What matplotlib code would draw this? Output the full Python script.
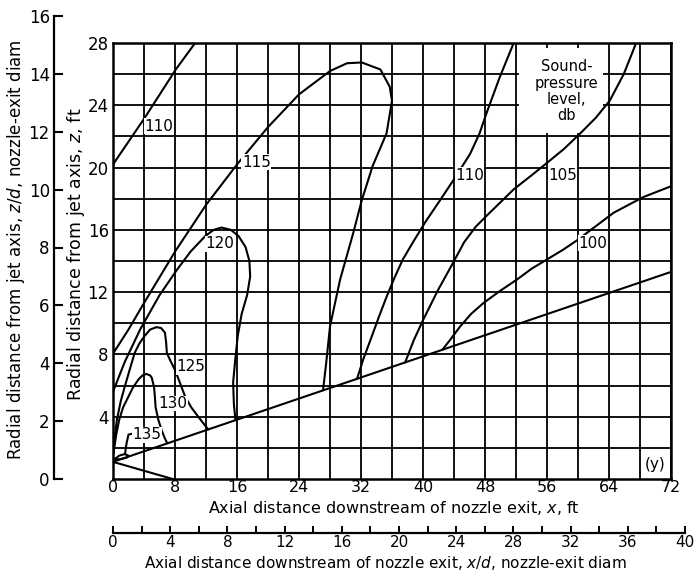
import matplotlib
matplotlib.use("Agg")
import matplotlib.pyplot as plt
import numpy as np
from matplotlib.patches import Rectangle

plt.rcParams["font.family"] = ["DejaVu Sans"]
plt.rcParams["mathtext.fontset"] = "dejavusans"

# ---- jet geometry (ft) ----
jet_edge_x = [0.0, 42.5, 72.0]
jet_edge_z = [1.1, 8.3, 13.3]
core_x = [0.0, 7.7]
core_z = [1.1, 0.0]

# ---- sound-pressure-level contours, x (ft) vs z (ft) ----
db110_outer_x = [0.0, 4.1, 8.1, 10.6]
db110_outer_z = [20.2, 23.2, 26.3, 28.0]

db115_x = [0.0, 2.0, 4.0, 8.0, 12.0, 16.0, 20.0, 24.0, 28.0, 30.2, 32.1, 34.5,
           35.7, 36.0, 35.3, 33.5, 32.1, 31.0, 29.3, 28.0, 27.5, 27.1]
db115_z = [8.05, 9.6, 11.3, 14.6, 17.6, 20.2, 22.6, 24.7, 26.2, 26.7, 26.75, 26.3,
           25.2, 24.3, 22.2, 20.1, 17.9, 15.8, 12.8, 9.8, 7.4, 5.7]

db120_x = [0.0, 1.5, 3.5, 6.0, 8.2, 10.0, 11.9, 13.0, 14.0, 15.2, 16.2, 17.1,
           17.6, 17.7, 17.3, 16.6, 16.1, 15.8, 15.5, 15.6, 15.8]
db120_z = [5.6, 7.5, 9.6, 11.8, 13.4, 14.6, 15.6, 16.0, 16.15, 16.0, 15.6, 14.9,
           14.0, 13.0, 11.8, 10.6, 9.2, 7.8, 6.2, 4.8, 3.78]

db125_x = [0.0, 0.5, 1.0, 1.5, 2.2, 2.8, 3.4, 4.1, 4.8, 5.6, 6.2, 6.7, 6.85,
           6.95, 7.4, 8.0, 8.7, 9.3, 10.1, 11.0, 11.7, 12.3]
db125_z = [1.8, 3.8, 5.0, 5.9, 7.1, 8.1, 8.7, 9.2, 9.6, 9.75, 9.7, 9.4, 8.8,
           8.1, 7.6, 7.0, 6.1, 5.3, 4.6, 4.0, 3.55, 3.18]

db130_x = [0.05, 0.4, 0.8, 1.3, 2.0, 2.6, 3.3, 3.8, 4.3, 4.8, 5.0, 5.3, 5.4,
           5.5, 5.85, 6.3, 6.7, 7.0]
db130_z = [1.6, 2.8, 3.8, 4.6, 5.3, 5.9, 6.4, 6.65, 6.75, 6.65, 6.5, 5.9, 5.3,
           4.6, 3.8, 3.1, 2.6, 2.3]

db135_x = [0.3, 0.8, 1.5, 2.0, 1.8, 1.2, 0.6, 0.3]
db135_z = [1.3, 1.5, 1.6, 1.5, 1.38, 1.3, 1.25, 1.3]
db135_leader_x = [2.65, 2.0, 1.75, 1.55]
db135_leader_z = [2.93, 2.85, 2.3, 1.6]

db110_inner_x = [31.5, 32.3, 33.2, 34.3, 35.3, 36.3, 37.4, 38.7, 40.3, 42.2,
                 44.2, 46.1, 47.3, 48.2, 49.9, 51.7]
db110_inner_z = [6.45, 7.7, 8.9, 10.4, 11.7, 12.9, 14.1, 15.2, 16.5, 17.9,
                 19.4, 20.9, 22.2, 23.5, 25.8, 28.0]

db105_x = [37.7, 38.8, 40.0, 41.9, 43.9, 45.3, 46.8, 48.2, 51.7, 54.0, 56.0,
           58.2, 60.3, 62.3, 64.1, 65.9, 67.5]
db105_z = [7.49, 8.9, 10.2, 12.1, 13.9, 15.2, 16.2, 16.9, 18.6, 19.5, 20.3,
           21.2, 22.2, 23.2, 24.3, 26.0, 28.0]

db100_x = [42.5, 43.6, 44.8, 46.2, 47.8, 50.0, 52.1, 54.0, 56.0, 58.0, 59.8,
           62.2, 64.6, 66.5, 68.4, 72.0]
db100_z = [8.3, 9.0, 9.8, 10.6, 11.3, 12.1, 12.8, 13.5, 14.1, 14.7, 15.3,
           16.2, 17.1, 17.6, 18.1, 18.8]

# contour labels: text, x, z
label_text = ["110", "115", "120", "125", "130", "135", "110", "105", "100"]
label_x = [5.95, 18.5, 13.8, 10.0, 7.7, 4.35, 46.0, 58.0, 61.9]
label_z = [22.65, 20.35, 15.1, 7.2, 4.85, 2.85, 19.5, 19.5, 15.15]

# axis ticks
x_ft_ticks = list(range(0, 73, 8))
z_ft_ticks = list(range(4, 29, 4))
xd_ticks = list(range(0, 41, 4))
zd_ticks = list(range(0, 17, 2))

W, H = 695, 572
fig = plt.figure(figsize=(W / 100, H / 100), dpi=100)


def fx(px):
    return px / W


def fy(py):
    return 1 - py / H


# ---- main axes in feet ----
ax = fig.add_axes([fx(113), fy(479), (671 - 113) / W, (479 - 43) / H])
ax.set_xlim(0, 72)
ax.set_ylim(0, 28)
ax.set_xticks(x_ft_ticks)
ax.set_xticks(np.arange(4, 72, 8), minor=True)
ax.set_yticks(z_ft_ticks)
ax.set_yticks(np.arange(2, 28, 4), minor=True)
ax.set_axisbelow(True)
ax.grid(True, which="both", color="black", lw=1.3)
ax.tick_params(axis="y", which="both", length=0, labelsize=12, pad=3)
ax.tick_params(axis="x", which="both", length=0, labelsize=11.5, pad=1)
for s in ax.spines.values():
    s.set_linewidth(1.8)

ax.add_patch(Rectangle((52.4, 22.2), 10.8, 5.5, fc="white", ec="none", zorder=1))

line_kw = dict(color="black", lw=1.5, solid_joinstyle="round", solid_capstyle="round", zorder=2)
ax.plot(jet_edge_x, jet_edge_z, **line_kw)
ax.plot(core_x, core_z, **line_kw)
for xs, zs in [(db110_outer_x, db110_outer_z), (db115_x, db115_z), (db120_x, db120_z),
               (db125_x, db125_z), (db130_x, db130_z), (db135_x, db135_z),
               (db135_leader_x, db135_leader_z), (db110_inner_x, db110_inner_z),
               (db105_x, db105_z), (db100_x, db100_z)]:
    ax.plot(xs, zs, **line_kw)

for t, x, z in zip(label_text, label_x, label_z):
    ax.text(x, z, t, ha="center", va="center", fontsize=11, zorder=3,
            bbox=dict(fc="white", ec="none", pad=0.3))

ax.text(58.5, 24.9, "Sound-\npressure\nlevel,\ndb", ha="center", va="center",
        fontsize=10.5, linespacing=1.1, zorder=3)
ax.text(69.9, 0.95, "(y)", ha="center", va="center", fontsize=11, zorder=3)

# ---- outer scale: z/d ----
axl = fig.add_axes([fx(54), fy(479), 0.002, (479 - 16) / H])
axl.set_ylim(0, 16)
axl.set_yticks(zd_ticks)
axl.set_xticks([])
axl.patch.set_visible(False)
for k in ("top", "right", "bottom"):
    axl.spines[k].set_visible(False)
axl.spines["left"].set_linewidth(1.6)
axl.tick_params(axis="y", direction="in", length=6.5, width=1.5, labelsize=12, pad=3)

# ---- outer scale: x/d ----
axb = fig.add_axes([fx(113), fy(533), (685 - 113) / W, 0.002])
axb.set_xlim(0, 40)
axb.set_xticks(xd_ticks)
axb.set_xticks(np.arange(2, 40, 4), minor=True)
axb.set_yticks([])
axb.patch.set_visible(False)
for k in ("top", "right", "left"):
    axb.spines[k].set_visible(False)
axb.spines["bottom"].set_linewidth(1.6)
axb.tick_params(axis="x", which="both", direction="in", length=5, width=1.4,
                labelsize=11, pad=1.5)

# ---- axis titles ----
fig.text(fx(394), fy(508), "Axial distance downstream of nozzle exit, $x$, ft",
         ha="center", va="center", fontsize=11.5)
fig.text(fx(385), fy(563), "Axial distance downstream of nozzle exit, $x/d$, nozzle-exit diam",
         ha="center", va="center", fontsize=11)
fig.text(fx(76), fy(254), "Radial distance from jet axis, $z$, ft",
         ha="center", va="center", rotation=90, fontsize=12.5)
fig.text(fx(16), fy(250), "Radial distance from jet axis, $z/d$, nozzle-exit diam",
         ha="center", va="center", rotation=90, fontsize=12)

fig.savefig("out.png", dpi=100)
